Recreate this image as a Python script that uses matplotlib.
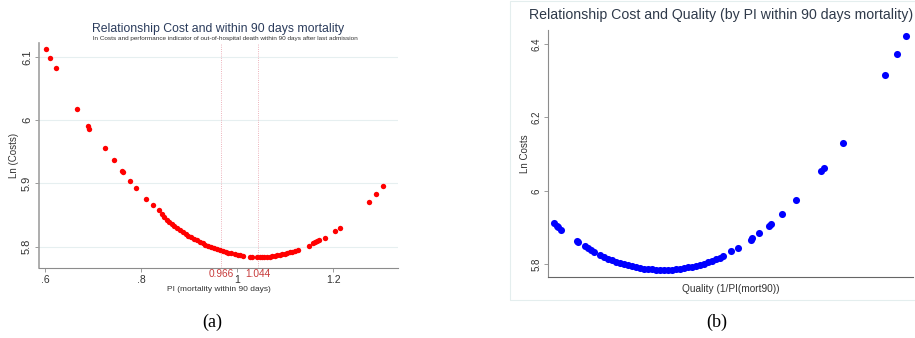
import matplotlib
matplotlib.use('Agg')
import matplotlib.pyplot as plt
from matplotlib.patches import Rectangle

plt.rcParams['font.family'] = ['Liberation Sans', 'DejaVu Sans']

# Panel (a): PI (mortality within 90 days) vs Ln(costs)
pi_mort90 = [0.602, 0.610, 0.622, 0.667, 0.689, 0.692, 0.724, 0.743, 0.760, 0.762,
             0.777, 0.789, 0.811, 0.824,
             0.837, 0.843, 0.848, 0.853, 0.858, 0.864, 0.869, 0.875, 0.881, 0.887,
             0.893, 0.898, 0.904, 0.910, 0.916, 0.922, 0.928, 0.934, 0.940, 0.946,
             0.952, 0.958, 0.964, 0.970, 0.976, 0.982, 0.988, 0.995, 1.001, 1.007,
             1.013, 1.026, 1.031,
             1.042, 1.047, 1.052, 1.057, 1.062, 1.068, 1.073, 1.078, 1.083, 1.089,
             1.094, 1.099, 1.104, 1.110, 1.115, 1.121, 1.126,
             1.149, 1.159, 1.163, 1.166, 1.170, 1.182, 1.204, 1.214,
             1.274, 1.290, 1.304]
ln_cost_a = [6.112, 6.099, 6.083, 6.017, 5.990, 5.986, 5.956, 5.937, 5.920, 5.918,
             5.904, 5.893, 5.875, 5.866,
             5.857, 5.851, 5.846, 5.842, 5.838, 5.836, 5.832, 5.829, 5.826, 5.823,
             5.820, 5.817, 5.815, 5.812, 5.810, 5.807, 5.805, 5.803, 5.801, 5.799,
             5.797, 5.796, 5.794, 5.793, 5.791, 5.790, 5.789, 5.788, 5.787, 5.786,
             5.785, 5.784, 5.784,
             5.783, 5.783, 5.783, 5.783, 5.784, 5.784, 5.785, 5.785, 5.786, 5.787,
             5.788, 5.788, 5.789, 5.791, 5.792, 5.793, 5.795,
             5.801, 5.805, 5.807, 5.809, 5.810, 5.814, 5.825, 5.830,
             5.870, 5.883, 5.895]
pi_cutoffs = [0.966, 1.044]
xticks_a = [0.6, 0.8, 1.0, 1.2]
xticklabels_a = ['.6', '.8', '1', '1.2']
yticks_a = [5.8, 5.9, 6.0, 6.1]
yticklabels_a = ['5.8', '5.9', '6', '6.1']

# Panel (b): quality (1/PI) vs Ln costs
quality = [0.736, 0.744, 0.748, 0.756, 0.799, 0.803, 0.821, 0.829, 0.837, 0.847,
           0.862, 0.873, 0.884, 0.895, 0.906, 0.917, 0.928, 0.939, 0.950, 0.961,
           0.972, 0.983, 0.994, 1.005, 1.016, 1.027, 1.038, 1.049, 1.060, 1.071,
           1.082, 1.093, 1.104, 1.115, 1.126, 1.136, 1.147, 1.158, 1.169, 1.180,
           1.191, 1.200, 1.221, 1.240, 1.275, 1.280, 1.298, 1.325, 1.330, 1.361,
           1.400, 1.467, 1.475, 1.527, 1.643, 1.675, 1.702]
ln_cost_b = [5.911, 5.904, 5.900, 5.893, 5.864, 5.861, 5.849, 5.844, 5.839, 5.833,
             5.825, 5.820, 5.815, 5.811, 5.807, 5.803, 5.800, 5.797, 5.794, 5.792,
             5.790, 5.788, 5.787, 5.786, 5.785, 5.784, 5.784, 5.784, 5.785, 5.786,
             5.787, 5.789, 5.791, 5.793, 5.795, 5.798, 5.801, 5.805, 5.809, 5.813,
             5.818, 5.823, 5.835, 5.845, 5.867, 5.870, 5.884, 5.905, 5.909, 5.938,
             5.975, 6.053, 6.062, 6.131, 6.315, 6.372, 6.421]
yticks_b = [5.8, 6.0, 6.2, 6.4]
yticklabels_b = ['5.8', '6', '6.2', '6.4']

fig = plt.figure(figsize=(9.15, 3.38), dpi=100)
axis_col = '#8c8c8c'
tick_col = '#333333'

#%% panel (a)
ax = fig.add_axes([0.0426, 0.2071, 0.3924, 0.6657])
ax.set_xlim(0.5875, 1.335)
ax.set_ylim(5.766, 6.122)
for y in yticks_a:
    ax.axhline(y, color='#e6eff0', lw=0.8, zorder=0)
for x in pi_cutoffs:
    ax.axvline(x, color='#e79aa6', lw=0.6, ls=':', zorder=1)
ax.scatter(pi_mort90, ln_cost_a, s=15, color='#ff0000', lw=0, zorder=3)
ax.set_xticks(xticks_a)
ax.set_xticklabels(xticklabels_a, fontsize=7.5, color=tick_col)
ax.set_yticks(yticks_a)
ax.set_yticklabels(yticklabels_a, fontsize=8, color=tick_col, rotation=90, va='center')
ax.tick_params(length=3, width=0.6, color=axis_col, pad=2)
for s in ['top', 'right']:
    ax.spines[s].set_visible(False)
ax.spines['left'].set_color('#a0a0a0')
ax.spines['left'].set_linewidth(1.2)
ax.spines['bottom'].set_color(axis_col)
ax.spines['bottom'].set_linewidth(0.8)
ax.set_xlabel('PI (mortality within 90 days)', fontsize=6, color=tick_col, labelpad=1)
ax.set_ylabel('Ln (Costs)', fontsize=7, color=tick_col, labelpad=2)
for x in pi_cutoffs:
    ax.text(x, -0.027, f'{x:.3f}', transform=ax.get_xaxis_transform(),
            ha='center', va='center', fontsize=7.3, color='#c83c3c')
fig.text(0.238, 0.914, 'Relationship Cost and within 90 days mortality',
         ha='center', va='center', fontsize=8.8, color='#2b3c5c')
fig.text(0.246, 0.886, 'ln Costs and performance indicator of out-of-hospital death '
         'within 90 days after last admission',
         ha='center', va='center', fontsize=4.55, color='#333333')
fig.text(0.2325, 0.047, '(a)', ha='center', va='center', fontsize=13,
         family='Liberation Serif')

#%% panel (b)
fig.add_artist(Rectangle((0.5574, 0.112), 0.45, 0.885, transform=fig.transFigure,
                         fill=False, edgecolor='#e4eeee', lw=0.8))
bx = fig.add_axes([0.5989, 0.1805, 0.3989, 0.7307])
bx.set_xlim(0.72, 1.72)
bx.set_ylim(5.765, 6.438)
bx.scatter(quality, ln_cost_b, s=26, color='#0000ff', lw=0, zorder=3)
bx.set_xticks([])
bx.set_yticks(yticks_b)
bx.set_yticklabels(yticklabels_b, fontsize=7, color=tick_col, rotation=90, va='center')
bx.tick_params(length=3, width=0.6, color=axis_col, pad=2)
for s in ['top', 'right']:
    bx.spines[s].set_visible(False)
bx.spines['left'].set_color(axis_col)
bx.spines['left'].set_linewidth(0.8)
bx.spines['bottom'].set_color('#666666')
bx.spines['bottom'].set_linewidth(0.8)
bx.set_xlabel('Quality (1/PI(mort90))', fontsize=7.3, color=tick_col, labelpad=5)
bx.set_ylabel('Ln Costs', fontsize=7, color=tick_col, labelpad=1)
fig.text(0.578, 0.955, 'Relationship Cost and Quality (by PI within 90 days mortality)',
         ha='left', va='center', fontsize=10.2, color='#2f3a4a')
fig.text(0.7836, 0.047, '(b)', ha='center', va='center', fontsize=13,
         family='Liberation Serif')

fig.savefig('out.png', dpi=100, facecolor='white')
